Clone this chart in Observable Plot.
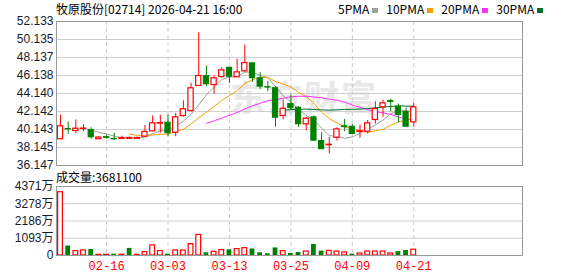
<!DOCTYPE html>
<html><head><meta charset="utf-8">
<script src="https://cdn.jsdelivr.net/npm/d3@7"></script>
<script src="https://cdn.jsdelivr.net/npm/@observablehq/plot@0.6"></script>
<style>
html,body{margin:0;padding:0;background:#fff;}
body{width:578px;height:276px;overflow:hidden;position:relative;font-family:"Noto Sans CJK SC",sans-serif;}
.abs{position:absolute;white-space:nowrap;}
#title{left:56px;top:0;font-size:12px;line-height:17px;color:#000;}
#legend{left:338px;top:0;font-size:12px;line-height:17px;color:#000;}
#legend i{display:inline-block;width:6px;height:5px;margin:0 8px 1px 3px;vertical-align:middle;}
#volLabel{left:56px;top:168px;font-size:12px;line-height:17px;color:#000;}
#wm{left:230px;top:70px;font-size:35px;font-weight:bold;color:#e8e8e8;letter-spacing:2px;z-index:0;}
#price,#vol{position:absolute;left:0;z-index:1;}
#price{top:0;}
#vol{top:168px;}
</style></head>
<body>
<div id="wm" class="abs">东方财富</div>
<div id="title" class="abs">牧原股份[02714] 2026-04-21 16:00</div>
<div id="legend" class="abs"></div>
<div id="volLabel" class="abs">成交量:3681100</div>
<div id="price"></div>
<div id="vol"></div>
<script>
// ---- data ----
const open  = [39.06,40.20,39.98,40.20,40.09,39.06,39.30,39.10,39.10,39.12,39.12,39.34,39.94,40.80,40.90,39.79,41.64,42.20,44.98,46.08,45.08,45.97,47.00,45.94,46.60,47.49,45.83,44.85,44.72,41.64,42.97,42.56,40.72,41.50,38.87,38.40,39.23,40.50,40.45,39.88,39.90,41.20,42.61,43.30,42.67,42.12,40.94];
const high  = [41.72,40.98,41.20,40.68,40.34,39.35,39.50,39.72,39.40,39.30,39.30,40.60,41.64,41.72,41.75,41.94,43.34,45.27,50.89,47.19,46.08,47.00,47.00,47.94,49.52,47.49,46.45,45.45,44.90,43.42,43.98,42.68,41.50,41.64,39.79,39.28,40.34,41.27,40.72,40.64,41.12,43.23,43.42,43.50,42.97,42.50,43.05];
const low   = [39.06,39.60,39.68,39.90,39.06,39.06,39.06,38.94,39.10,39.06,39.06,39.28,39.94,39.72,39.34,39.34,41.50,42.10,44.98,44.90,44.05,45.83,45.27,45.90,46.50,45.38,44.60,44.34,40.39,41.20,42.30,40.39,40.00,38.90,37.95,37.42,38.87,39.90,39.64,39.16,39.64,40.75,41.50,42.10,40.90,40.45,40.45];
const close = [40.50,40.15,40.23,40.25,39.28,39.25,39.22,39.05,39.20,39.20,39.20,39.87,40.83,40.85,39.72,41.50,42.39,44.72,46.08,45.16,45.83,46.71,46.00,46.49,47.52,45.83,44.90,44.80,41.45,42.45,42.50,40.72,41.34,38.90,37.95,38.45,40.16,40.40,39.64,39.95,40.83,42.42,43.06,43.20,41.75,40.45,42.60];
// volume in 万 shares; volUp: red (1) or green (0) volume bar
const volume = [4008,597,277,320,384,43,43,85,43,448,43,213,640,277,85,320,317,720,1305,170,233,340,360,403,467,414,170,106,478,276,127,190,253,697,275,296,253,190,85,127,253,253,253,127,253,317,368];
const volUp  = [1,0,1,1,0,1,1,0,1,0,1,1,1,1,0,1,1,1,1,0,1,1,0,1,1,0,0,0,0,1,0,0,1,0,0,1,1,1,0,1,1,1,1,1,0,0,1];
const priceTicks = [36.147,38.145,40.143,42.142,44.140,46.138,48.137,50.135,52.133];
const volTicks = [0,1093,2186,3278,4371];
const dateTickIdx = [6,14,22,30,38,46];
const dateTickLabels = ["02-16","03-03","03-13","03-25","04-09","04-21"];
const maNames = ["5PMA","10PMA","20PMA","30PMA"];
const maPeriods = [5,10,20,30];
const maColors = ["#a0a0a0","#f5a000","#ff30ff","#00702a"];

// ---- legend ----
document.getElementById("legend").innerHTML = maNames.map((n,k)=>`${n}<i style="background:${maColors[k]}"></i>`).join("");

const candles = open.map((o,i)=>({i, o, h:high[i], l:low[i], c:close[i], up: close[i] >= o}));
const vols = volume.map((v,i)=>({i, v, up: volUp[i] === 1}));
const xDomain = [-0.52, 60.16];
const HW = 0.34;
const RED = "#ff0000", GREEN = "#008000";
const baseStyle = {fontFamily:"'Liberation Sans', Arial, sans-serif", fontSize:"12px", color:"#1a1a2a", background:"transparent", overflow:"visible"};

const price = Plot.plot({
  width:578, height:168, marginTop:21, marginBottom:3, marginLeft:56, marginRight:56,
  x:{domain:xDomain, axis:null},
  y:{domain:[priceTicks[0], priceTicks[priceTicks.length-1]], axis:null, label:null},
  style: baseStyle,
  marks:[
    Plot.gridY(priceTicks, {stroke:"#cfcfcf", strokeOpacity:1}),
    Plot.ruleX(dateTickIdx, {stroke:"#cccccc", strokeDasharray:"4,3"}),
    Plot.axisY(priceTicks, {tickSize:0, tickPadding:3, tickFormat:d=>d.toFixed(3), fontSize:12, label:null}),
    ...maPeriods.map((k,j)=>Plot.lineY(candles, Plot.windowY({k, anchor:"end", strict:true, reduce:"mean"}, {x:"i", y:"c", stroke:maColors[j], strokeWidth:1}))),
    Plot.ruleX(candles, {filter:d=>d.up, x:"i", y1:"l", y2:"h", stroke:RED}),
    Plot.ruleX(candles, {filter:d=>!d.up, x:"i", y1:"l", y2:"h", stroke:GREEN}),
    Plot.rect(candles, {filter:d=>d.up, x1:d=>d.i-HW, x2:d=>d.i+HW, y1:"o", y2:"c", fill:"#fff", stroke:RED, strokeWidth:1.2}),
    Plot.rect(candles, {filter:d=>!d.up, x1:d=>d.i-HW, x2:d=>d.i+HW, y1:"o", y2:"c", fill:GREEN, stroke:GREEN, strokeWidth:1}),
    Plot.frame({stroke:"#999"})
  ]
});
document.getElementById("price").appendChild(price);

const vol = Plot.plot({
  width:578, height:108, marginTop:18, marginBottom:21, marginLeft:56, marginRight:56,
  x:{domain:xDomain, label:null},
  y:{domain:[0, volTicks[volTicks.length-1]], label:null},
  style: baseStyle,
  marks:[
    Plot.gridY(volTicks, {stroke:"#cfcfcf", strokeOpacity:1}),
    Plot.ruleX(dateTickIdx, {stroke:"#cccccc", strokeDasharray:"4,3"}),
    Plot.axisY(volTicks, {tickSize:0, tickPadding:3, tickFormat:d=>d===0?"0":d+"万", fontSize:12, label:null, fontFamily:"'Liberation Sans','Noto Sans CJK SC',sans-serif"}),
    Plot.axisX(dateTickIdx, {tickSize:0, tickPadding:6, tickFormat:(d,k)=>dateTickLabels[k], fill:RED, fontSize:12, fontFamily:"'Liberation Mono','Noto Sans CJK SC',monospace", label:null}),
    Plot.rect(vols, {filter:d=>d.up, x1:d=>d.i-0.31, x2:d=>d.i+0.31, y1:0, y2:"v", fill:"#fff", stroke:RED, strokeWidth:1.2}),
    Plot.rect(vols, {filter:d=>!d.up, x1:d=>d.i-0.31, x2:d=>d.i+0.31, y1:0, y2:"v", fill:GREEN}),
    Plot.frame({stroke:"#999"})
  ]
});
document.getElementById("vol").appendChild(vol);
</script>
</body></html>
